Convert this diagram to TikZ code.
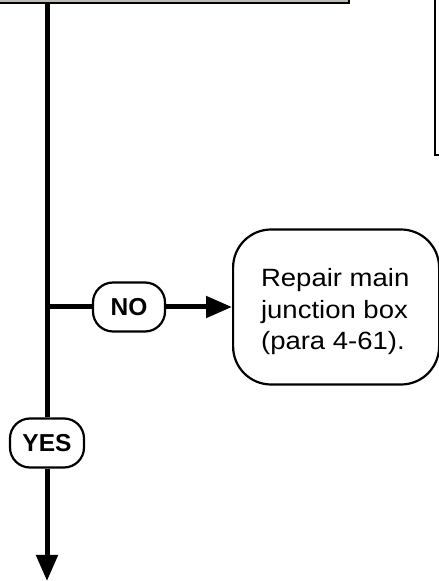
\documentclass[tikz,border=0pt]{standalone}
\usepackage{fontspec}
\setmainfont{Liberation Sans}
\newfontfamily\widesans[FakeStretch=1.1]{Liberation Sans}
\usetikzlibrary{arrows.meta,positioning}
\definecolor{boxgray}{RGB}{192,186,180}

\begin{document}
\begin{tikzpicture}[x=1pt,y=1pt,
  flow/.style={line width=5pt},
  tip/.style={-{Triangle[length=26pt,width=21pt]}},
  pill/.style={draw,line width=2.2pt,rounded corners=20pt,fill=white,
               minimum height=49pt,inner sep=0pt,
               font=\fontsize{24.5}{24.5}\selectfont\bfseries},
  action/.style={draw,line width=2.2pt,rounded corners=38pt,fill=white,
                 align=left,minimum width=206pt,minimum height=155pt,
                 inner sep=0pt,font=\widesans\fontsize{25}{31.5}\selectfont}]

\clip (0,0) rectangle (439,581);

% ---------------- boxes cut by the page edge ----------------
\draw[line width=2.5pt,fill=boxgray] (-10,578) rectangle (349,600);
\draw[line width=2pt] (435,426) rectangle (470,600);

% ---------------- decision branch ----------------
\coordinate (top) at (47,578);
\coordinate (bend) at (47,274);
\coordinate (bottom) at (47,0);
\node[pill,minimum width=72pt] (no) at (129,274) {NO};
\node[pill,minimum width=74pt] (yes) at (47,138) {YES};
\node[action,anchor=west] (repair) at (232,274)
  {\raisebox{-5pt}[\height][\depth]{\parbox{150pt}{Repair main\\junction box\\(para 4-61).}}};

\draw[flow] (top) -- (yes);
\draw[flow,tip] (yes) -- (bottom);
\draw[flow] (bend) -- (no);
\draw[flow,tip] (no) -- (repair);

\end{tikzpicture}
\end{document}
